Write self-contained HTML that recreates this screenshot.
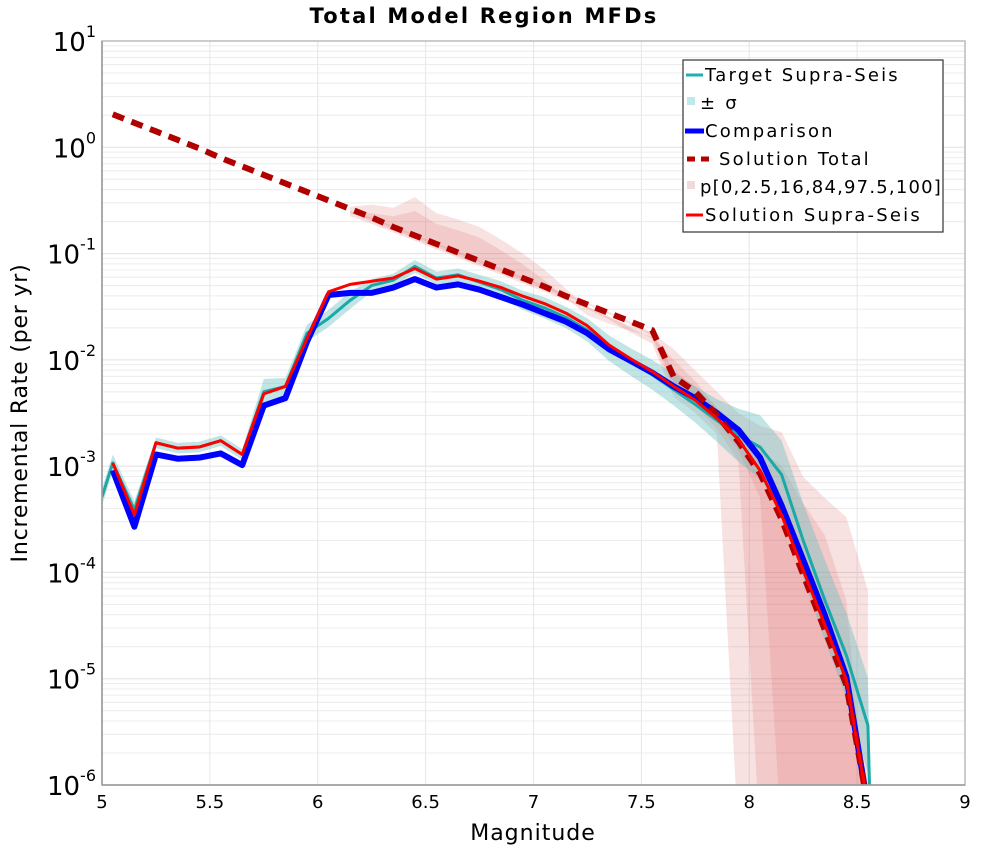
<!DOCTYPE html>
<html><head><meta charset="utf-8"><style>
html,body{margin:0;padding:0;background:#fff;}
svg{display:block;font-family:"DejaVu Sans","Liberation Sans",sans-serif;}
</style></head><body>
<svg id="chart" width="1000" height="850" xmlns="http://www.w3.org/2000/svg">
<text x="484" y="23" text-anchor="middle" font-size="21" font-weight="bold" letter-spacing="2.2">Total Model Region MFDs</text>
<g id="grid"></g>
<g id="bands"></g>
<g id="series"></g>
<g id="axes"></g>
<text x="533" y="840" text-anchor="middle" font-size="22" letter-spacing="1">Magnitude</text>
<text transform="translate(27,413) rotate(-90)" text-anchor="middle" font-size="22" letter-spacing="0.8">Incremental Rate (per yr)</text>
<g font-size="18" letter-spacing="2.2">
<rect x="683" y="60" width="260" height="172" fill="#fff" stroke="#333" stroke-width="1.2"/>
<g><line x1="686" y1="75" x2="703" y2="75" stroke="#1ab2b2" stroke-width="3"/><text x="705" y="81">Target Supra-Seis</text></g>
<g><rect x="687" y="97" width="8" height="8" fill="#bfe8e8"/><text x="700" y="109">± σ</text></g>
<g><line x1="685" y1="131" x2="704" y2="131" stroke="#0000ff" stroke-width="5"/><text x="705" y="137">Comparison</text></g>
<g><line x1="687" y1="159" x2="715" y2="159" stroke="#b00000" stroke-width="5" stroke-dasharray="8,6"/><text x="719" y="165">Solution Total</text></g>
<g><rect x="687" y="181" width="8" height="8" fill="#f2dada"/><text x="700" y="193" letter-spacing="1.2">p[0,2.5,16,84,97.5,100]</text></g>
<g><line x1="686" y1="215" x2="703" y2="215" stroke="#ff0000" stroke-width="3"/><text x="705" y="221">Solution Supra-Seis</text></g>
</g>
</svg>
<script>
// data (log10 of rate)
const mags = [5.05,5.15,5.25,5.35,5.45,5.55,5.65,5.75,5.85,5.95,6.05,6.15,6.25,6.35,6.45,6.55,6.65,6.75,6.85,6.95,7.05,7.15,7.25,7.35,7.45,7.55,7.65,7.75,7.85,7.95,8.05,8.15,8.25,8.35,8.45,8.55];
const solSupra = [-2.97,-3.46,-2.78,-2.83,-2.82,-2.76,-2.89,-2.32,-2.25,-1.80,-1.36,-1.29,-1.26,-1.23,-1.14,-1.24,-1.21,-1.26,-1.32,-1.40,-1.47,-1.56,-1.68,-1.86,-1.99,-2.11,-2.25,-2.38,-2.55,-2.75,-3.04,-3.46,-3.98,-4.49,-5.01,-6.2];
const comparison = [-3.04,-3.57,-2.89,-2.93,-2.92,-2.88,-2.99,-2.43,-2.36,-1.83,-1.39,-1.37,-1.37,-1.32,-1.24,-1.32,-1.29,-1.34,-1.41,-1.48,-1.56,-1.64,-1.75,-1.90,-2.01,-2.12,-2.25,-2.36,-2.50,-2.66,-2.92,-3.37,-3.88,-4.40,-4.98,-6.2];
const targetMags = [5.0,5.05,5.15,5.25,5.35,5.45,5.55,5.65,5.75,5.85,5.95,6.05,6.15,6.25,6.35,6.45,6.55,6.65,6.75,6.85,6.95,7.05,7.15,7.25,7.35,7.45,7.55,7.65,7.75,7.85,7.95,8.05,8.15,8.25,8.35,8.45,8.55,8.56];
const target = [-3.29,-2.97,-3.41,-2.78,-2.83,-2.82,-2.76,-2.89,-2.30,-2.25,-1.75,-1.61,-1.44,-1.30,-1.25,-1.12,-1.23,-1.20,-1.27,-1.34,-1.44,-1.51,-1.60,-1.72,-1.89,-2.02,-2.14,-2.28,-2.42,-2.57,-2.71,-2.82,-3.08,-3.70,-4.26,-4.78,-5.44,-6.2];
const sigmaHalf = [0.08,0.08,0.08,0.05,0.05,0.05,0.05,0.05,0.12,0.08,0.08,0.08,0.08,0.06,0.06,0.06,0.06,0.06,0.07,0.08,0.09,0.1,0.1,0.11,0.12,0.13,0.14,0.15,0.17,0.2,0.25,0.3,0.32,0.35,0.38,0.4,0.45,0.45];
const solTotal = [0.31,0.23,0.15,0.07,-0.01,-0.10,-0.18,-0.26,-0.34,-0.42,-0.50,-0.58,-0.66,-0.75,-0.83,-0.91,-0.99,-1.07,-1.15,-1.23,-1.31,-1.40,-1.48,-1.56,-1.64,-1.72,-2.16,-2.30,-2.52,-2.77,-3.07,-3.50,-4.02,-4.54,-5.06,-6.2];
const pMags = [6.15,6.25,6.35,6.45,6.55,6.65,6.75,6.85,6.95,7.05,7.15,7.25,7.35,7.45,7.55,7.65,7.75,7.85,7.95,8.05,8.15,8.25,8.35,8.45,8.55];
const p100 = [-0.56,-0.54,-0.57,-0.47,-0.62,-0.68,-0.75,-0.87,-1.00,-1.15,-1.33,-1.50,-1.60,-1.68,-1.75,-1.90,-2.10,-2.30,-2.50,-2.62,-2.68,-3.10,-3.30,-3.48,-4.17];
const p0 = [-0.65,-0.72,-0.80,-0.88,-0.96,-1.04,-1.12,-1.20,-1.28,-1.36,-1.44,-1.52,-1.62,-1.74,-1.85,-2.35,-2.50,-2.70,-6.5,-6.5,-6.5,-6.5,-6.5,-6.5,-6.5];
const p975 = [-0.62,-0.62,-0.65,-0.60,-0.72,-0.78,-0.85,-0.97,-1.10,-1.25,-1.42,-1.58,-1.66,-1.73,-1.78,-2.00,-2.20,-2.45,-2.62,-2.85,-3.00,-3.35,-3.65,-4.26,-6.5];
const p25 = [-0.62,-0.70,-0.78,-0.86,-0.94,-1.02,-1.10,-1.18,-1.26,-1.34,-1.42,-1.50,-1.59,-1.70,-1.80,-2.28,-2.42,-2.65,-2.95,-6.5,-6.5,-6.5,-6.5,-6.5,-6.5];
const p84 = [-0.60,-0.66,-0.74,-0.82,-0.90,-0.98,-1.06,-1.14,-1.22,-1.30,-1.38,-1.46,-1.55,-1.64,-1.74,-2.10,-2.25,-2.45,-2.68,-2.95,-3.35,-3.85,-4.35,-4.90,-6.5];
const p16 = [-0.62,-0.68,-0.76,-0.84,-0.92,-1.00,-1.08,-1.16,-1.24,-1.32,-1.40,-1.48,-1.57,-1.67,-1.77,-2.22,-2.36,-2.58,-2.85,-3.30,-6.5,-6.5,-6.5,-6.5,-6.5];
const xTicks = [5,5.5,6,6.5,7,7.5,8,8.5,9];
const xTickLabels = ["5","5.5","6","6.5","7","7.5","8","8.5","9"];
const yTicks = [1,0,-1,-2,-3,-4,-5,-6];
const yTickLabels = ["1","0","-1","-2","-3","-4","-5","-6"];

const NS="http://www.w3.org/2000/svg";
const L=102,R=965,T=41,B=785;
const xs=m=>L+(m-5)/(9-5)*(R-L);
const ys=v=>T+(1-Math.max(v,-6.5))/7*(B-T);
function mk(tag,parent,attrs){const e=document.createElementNS(NS,tag);for(const k in attrs)e.setAttribute(k,attrs[k]);parent.appendChild(e);return e;}
const grid=document.getElementById('grid'),bands=document.getElementById('bands'),series=document.getElementById('series'),axes=document.getElementById('axes');
const defs=mk('defs',document.getElementById('chart'),{});
const cp=mk('clipPath',defs,{id:'plotclip'});mk('rect',cp,{x:L,y:T,width:R-L,height:B-T});
bands.setAttribute('clip-path','url(#plotclip)');series.setAttribute('clip-path','url(#plotclip)');
for(let d=1;d>-6;d--){for(let k=2;k<=9;k++){const y=ys(d-1+Math.log10(k));
const g=mk('line',grid,{x1:L,x2:R,y1:y,y2:y,stroke:'#ececec','stroke-width':1});

}}
yTicks.forEach(v=>{const y=ys(v);const g=mk('line',grid,{x1:L,x2:R,y1:y,y2:y,stroke:'#e0e0e0','stroke-width':1});

});
xTicks.forEach(m=>{const x=xs(m);const g=mk('line',grid,{x1:x,x2:x,y1:T,y2:B,stroke:'#e6e6e6','stroke-width':1});

});
function band(mx,lo,hi,fill,name){let pts=mx.map((m,i)=>xs(m)+','+ys(hi[i]));for(let i=mx.length-1;i>=0;i--)pts.push(xs(mx[i])+','+ys(lo[i]));
const p=mk('polygon',bands,{points:pts.join(' '),fill:fill});

}
band(pMags,p0,p100,'rgba(215,90,90,0.18)','band-p0-p100');
band(pMags,p25,p975,'rgba(215,90,90,0.16)','band-p2.5-p97.5');
band(pMags,p16,p84,'rgba(215,90,90,0.16)','band-p16-p84');
band(targetMags,target.map((v,i)=>v-sigmaHalf[i]),target.map((v,i)=>v+sigmaHalf[i]),'rgba(100,190,190,0.4)','sigma-band');
function line(mx,vals,color,w,name,dash){const p=mk('polyline',series,{points:mx.map((m,i)=>xs(m)+','+ys(vals[i])).join(' '),fill:'none',stroke:color,'stroke-width':w,'stroke-linejoin':'round'});
if(dash)p.setAttribute('stroke-dasharray',dash);

}
line(targetMags,target,'#1aa8a8',3,'target-supra-seis-line');
line(mags,comparison,'#0000ff',6,'comparison-line');
line(mags,solTotal,'#b00000',6,'solution-total-line','12,8');
line(mags,solSupra,'#ff0000',3,'solution-supra-seis-line');
mk('rect',axes,{x:L,y:T,width:R-L,height:B-T,fill:'none',stroke:'#bbb','stroke-width':1.5});
mk('line',axes,{x1:L,x2:L,y1:T,y2:B,stroke:'#999','stroke-width':1.5});
mk('line',axes,{x1:L,x2:R,y1:B,y2:B,stroke:'#999','stroke-width':1.5});
xTicks.forEach((m,i)=>{const t=mk('text',axes,{x:xs(m),y:808,'text-anchor':'middle','font-size':18});t.textContent=xTickLabels[i];

});
yTicks.forEach((v,i)=>{const y=ys(v);const t=mk('text',axes,{x:96,y:y+10,'text-anchor':'end','font-size':26});
const a=document.createElementNS(NS,'tspan');a.textContent='10';t.appendChild(a);
const b=document.createElementNS(NS,'tspan');b.setAttribute('dy','-14');b.setAttribute('font-size','16');b.textContent=yTickLabels[i];t.appendChild(b);

});
</script>
</body></html>
